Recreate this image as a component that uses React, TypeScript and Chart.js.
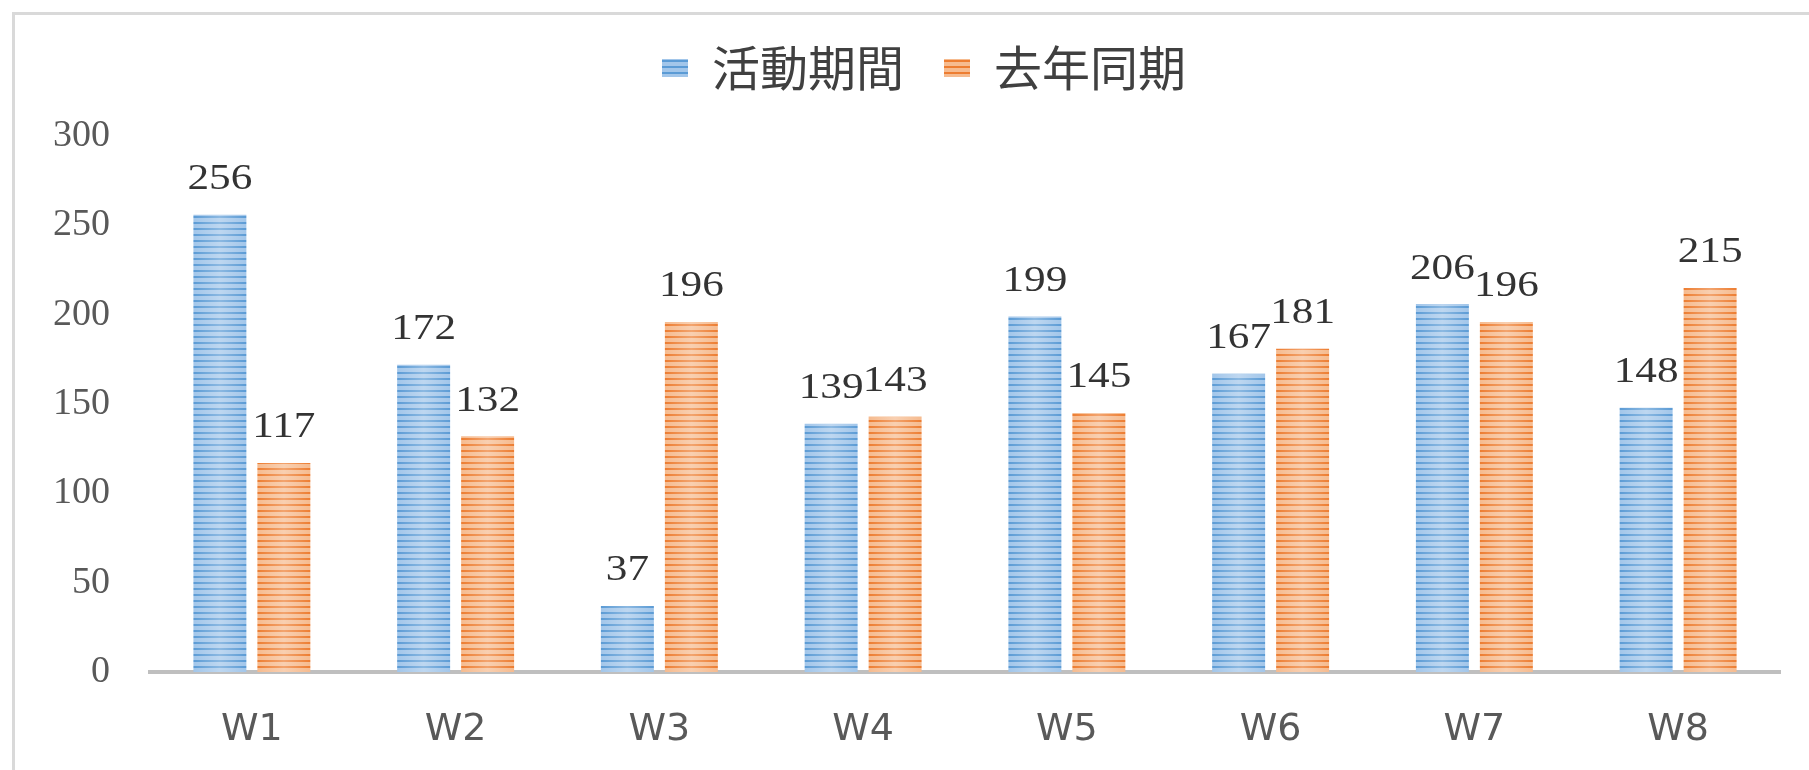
import React, { useEffect, useRef } from 'react';
import { Chart, registerables } from 'chart.js';

Chart.register(...registerables);

const categories = ['W1', 'W2', 'W3', 'W4', 'W5', 'W6', 'W7', 'W8'];
const activityValues = [256, 172, 37, 139, 199, 167, 206, 148];
const lastYearValues = [117, 132, 196, 143, 145, 181, 196, 215];
const seriesNames = ['活動期間', '去年同期'];
const yTickValues = [0, 50, 100, 150, 200, 250, 300];

function makeStripe(ctx: CanvasRenderingContext2D, light: string, dark: string) {
  const c = document.createElement('canvas');
  c.width = 4;
  c.height = 6;
  const g = c.getContext('2d')!;
  g.fillStyle = light;
  g.fillRect(0, 0, 4, 6);
  g.fillStyle = dark;
  g.fillRect(0, 0, 4, 2);
  return ctx.createPattern(c, 'repeat')!;
}

const legendShift = {
  id: 'legendShift',
  afterLayout(chart: any) {
    if (chart.legend) {
      chart.legend.left += 68;
    }
  },
};

const barDecor = {
  id: 'barDecor',
  afterDatasetsDraw(chart: any) {
    const ctx = chart.ctx as CanvasRenderingContext2D;
    chart.data.datasets.forEach((_ds: any, di: number) => {
      const meta = chart.getDatasetMeta(di);
      meta.data.forEach((el: any) => {
        const { x, y, base, width } = el.getProps(['x', 'y', 'base', 'width'], true);
        const left = x - width / 2;
        const grad = ctx.createLinearGradient(left, 0, left + width, 0);
        grad.addColorStop(0, 'rgba(255,255,255,0)');
        grad.addColorStop(0.5, 'rgba(255,255,255,0.3)');
        grad.addColorStop(1, 'rgba(255,255,255,0)');
        ctx.save();
        ctx.fillStyle = grad;
        ctx.fillRect(left, y, width, base - y);
        ctx.restore();
      });
    });
    chart.data.datasets.forEach((ds: any, di: number) => {
      const meta = chart.getDatasetMeta(di);
      meta.data.forEach((el: any, i: number) => {
        const { x, y } = el.getProps(['x', 'y'], true);
        ctx.save();
        ctx.font = '36px "Liberation Serif", "DejaVu Serif", serif';
        ctx.fillStyle = '#333333';
        ctx.textAlign = 'center';
        ctx.textBaseline = 'middle';
        ctx.translate(x, y - 35);
        ctx.scale(1.2, 1);
        ctx.fillText(String(ds.data[i]), 0, 0);
        ctx.restore();
      });
    });
  },
};

export default function App() {
  const canvasRef = useRef<HTMLCanvasElement | null>(null);

  useEffect(() => {
    document.body.style.margin = '0';
    document.body.style.background = '#ffffff';
    document.body.style.overflow = 'hidden';
    const canvas = canvasRef.current!;
    const ctx = canvas.getContext('2d')!;
    const bluePattern = makeStripe(ctx, '#a2c6ea', '#5b9bd5');
    const orangePattern = makeStripe(ctx, '#f6bb8f', '#ed7d31');

    const chart = new Chart(ctx, {
      type: 'bar',
      data: {
        labels: categories,
        datasets: [
          {
            label: seriesNames[0],
            data: activityValues,
            backgroundColor: bluePattern,
            borderWidth: 0,
            categoryPercentage: 0.628,
            barPercentage: 0.828,
          },
          {
            label: seriesNames[1],
            data: lastYearValues,
            backgroundColor: orangePattern,
            borderWidth: 0,
            categoryPercentage: 0.628,
            barPercentage: 0.828,
          },
        ],
      },
      options: {
        responsive: false,
        animation: false,
        events: [],
        layout: { padding: { top: 4, left: 0, right: 29, bottom: 0 } },
        plugins: {
          legend: {
            display: true,
            position: 'top',
            weight: 3000,
            labels: {
              boxWidth: 26,
              boxHeight: 18,
              padding: 40,
              color: '#404040',
              font: { family: '"Noto Sans CJK TC", "Noto Sans CJK SC", sans-serif', size: 48 },
            },
          } as any,
          title: {
            display: true,
            text: '',
            font: { size: 1 },
            padding: { top: 0, bottom: 33 },
          },
          tooltip: { enabled: false },
        },
        scales: {
          x: {
            grid: { display: false, drawTicks: false },
            border: { display: true, color: '#bfbfbf', width: 4 },
            ticks: {
              color: '#595959',
              padding: 35,
              font: { family: '"DejaVu Sans", Verdana, sans-serif', size: 38 },
            },
            afterFit: (scale: any) => {
              scale.height = 98;
            },
          },
          y: {
            min: 0,
            max: 300,
            grid: { display: false, drawTicks: false },
            border: { display: false },
            ticks: {
              color: '#595959',
              padding: 40,
              font: { family: '"Liberation Serif", "DejaVu Serif", serif', size: 38 },
            },
            afterBuildTicks: (scale: any) => {
              scale.ticks = yTickValues.map((v) => ({ value: v }));
            },
            afterFit: (scale: any) => {
              scale.width = 150;
            },
          },
        },
      },
      plugins: [legendShift, barDecor],
    });

    return () => {
      chart.destroy();
    };
  }, []);

  return (
    <div style={{ position: 'relative', width: 1809, height: 770, background: '#ffffff', overflow: 'hidden' }}>
      <div
        style={{
          position: 'absolute',
          left: 12,
          top: 12,
          width: 1900,
          height: 900,
          borderTop: '3px solid #d9d9d9',
          borderLeft: '3px solid #d9d9d9',
        }}
      />
      <canvas ref={canvasRef} width={1809} height={770} style={{ position: 'absolute', left: 0, top: 0 }} />
    </div>
  );
}
